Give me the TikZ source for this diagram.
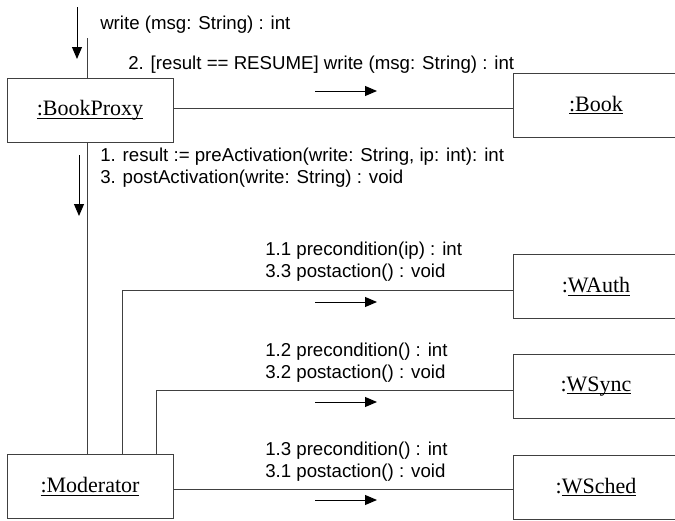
\documentclass[tikz,border=0pt]{standalone}
\usepackage{fontspec}
\setmainfont{Liberation Serif}
\newfontfamily\msgfont{Liberation Sans}
\usetikzlibrary{arrows.meta, positioning}

% underlined object name with a fixed rule depth
\newcommand\objul[1]{\begingroup\setbox0\hbox{#1}%
  \rlap{\rule[-2.2pt]{\wd0}{0.75pt}}\box0\endgroup}

\tikzset{
  object/.style={draw=black!75, line width=0.75pt, fill=white,
    minimum width=124.5pt, minimum height=48pt, inner sep=0pt,
    font=\fontsize{16.5}{20}\selectfont},
  link/.style={draw=black!75, line width=0.75pt},
  msg/.style={line width=0.75pt, -{Triangle[length=9pt, width=7.5pt]}},
  msglabel/.style={anchor=west, inner sep=0pt, align=left,
    font=\msgfont\fontsize{14}{16.5}\selectfont}
}

\begin{document}
\begin{tikzpicture}[x=0.75pt, y=-0.75pt]
        \useasboundingbox (0,0) rectangle (675,521);
        \clip (0,0) rectangle (675,521);

        % Objects
        \node (bookproxy) [object] at (90,110.5) {\objul{:BookProxy}};
        \node (book) [object] at (596,105) {\objul{:Book}};
        \node (moderator) [object] at (90,486.5) {\objul{:Moderator}};
        \node (wauth) [object] at (596,286.5) {:\objul{WAuth}};
        \node (wsync) [object] at (596,386.5) {:\objul{WSync}};
        \node (wsched) [object] at (596,487) {:\objul{WSched}};

        % Link rows
        \coordinate (trunk) at (87,38);
        \coordinate (bookrow) at (0,108);
        \coordinate (authx) at (122,290);
        \coordinate (syncx) at (156,390);
        \coordinate (schedrow) at (0,489);

        % Links
        \draw [link] (trunk) -- (bookproxy.north -| trunk);
        \draw [link] (bookproxy.south -| trunk) -- (moderator.north -| trunk);
        \draw [link] (bookproxy.east |- bookrow) -- (book.west |- bookrow);
        \draw [link] (moderator.north -| authx) |- (wauth.west |- authx);
        \draw [link] (moderator.north -| syncx) |- (wsync.west |- syncx);
        \draw [link] (moderator.east |- schedrow) -- (wsched.west |- schedrow);

        % Message arrows
        \coordinate (in0) at (77,7);
        \coordinate (in1) at (77,59);
        \coordinate (act0) at (79,155);
        \coordinate (act1) at (79,216);
        \coordinate (bk0) at (315,91);
        \coordinate (bk1) at (377,91);
        \coordinate (au0) at (315,302);
        \coordinate (au1) at (377,302);
        \coordinate (sy0) at (315,402);
        \coordinate (sy1) at (377,402);
        \coordinate (sc0) at (315,500);
        \coordinate (sc1) at (377,500);
        \draw [msg] (in0) -- (in1);
        \draw [msg] (act0) -- (act1);
        \draw [msg] (bk0) -- (bk1);
        \draw [msg] (au0) -- (au1);
        \draw [msg] (sy0) -- (sy1);
        \draw [msg] (sc0) -- (sc1);

        % Message labels
        \node (writemsg) [msglabel] at (100,25) {write (msg: String) : int};
        \node (bookmsg) [msglabel] at (128,65)
            {2. [result == RESUME] write (msg: String) : int};
        \node (actmsg) [msglabel] at (100,168)
            {1. result := preActivation(write: String, ip: int): int\\
             3. postActivation(write: String) : void};
        \node (authmsg) [msglabel] at (265,262)
            {1.1 precondition(ip) : int\\3.3 postaction() : void};
        \node (syncmsg) [msglabel] at (265,363)
            {1.2 precondition() : int\\3.2 postaction() : void};
        \node (schedmsg) [msglabel] at (265,461.5)
            {1.3 precondition() : int\\3.1 postaction() : void};
\end{tikzpicture}
\end{document}
